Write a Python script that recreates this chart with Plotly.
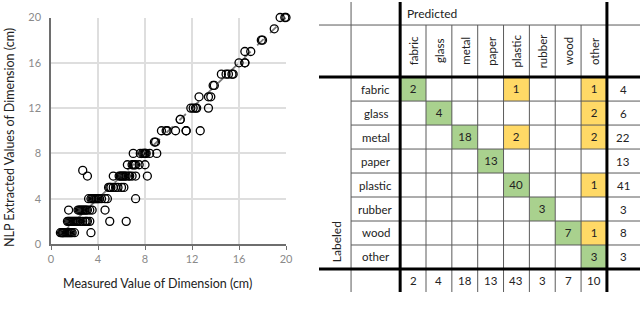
import plotly.graph_objects as go

# ---- scatter data: measured vs NLP extracted (cm) ----
measured = [
    0.8, 0.9, 1.0, 1.0, 1.1, 1.2, 1.3, 1.4, 1.5, 1.6, 1.7, 1.8, 2.0, 3.4,
    1.4, 1.5, 1.6, 1.7, 1.8, 1.9, 2.0, 2.1, 2.2, 2.3, 2.5, 2.7, 2.9, 3.0, 3.1, 3.3, 5.0, 6.4,
    1.5, 2.3, 2.4, 2.5, 2.6, 2.7, 2.8, 2.9, 3.0, 3.1, 3.3, 3.5, 4.6,
    3.2, 3.4, 3.5, 3.6, 3.7, 3.8, 3.9, 4.0, 4.1, 4.3, 4.6, 4.8, 7.2,
    4.9, 5.0, 5.1, 5.3, 5.5, 5.7, 6.0, 6.2,
    3.1, 5.3, 5.8, 5.9, 6.0, 6.1, 6.2, 6.3, 6.4, 6.6, 6.7, 6.9, 7.2, 8.2,
    2.7,
    6.5, 6.9, 7.0, 7.1, 7.2, 7.5, 8.0,
    7.0, 7.6, 7.8, 7.9, 8.0, 8.0, 8.1, 8.4, 9.0,
    8.8, 8.9,
    9.4, 9.8, 9.9, 10.6, 11.5, 11.5, 12.7,
    11.0, 11.0,
    11.9, 12.1, 12.3, 12.4, 13.4,
    12.6, 13.4, 13.6,
    13.8, 13.9,
    14.5, 14.9, 15.1, 15.4, 15.5,
    16.0, 16.5, 16.5,
    16.5, 17.0,
    17.9, 18.0,
    19.0,
    19.5, 19.9, 20.0,
]
extracted = (
    [1] * 14 + [2] * 18 + [3] * 13 + [4] * 13 + [5] * 8 + [6] * 14 + [6.5]
    + [7] * 7 + [8] * 9 + [9] * 2 + [10] * 7 + [11] * 2 + [12] * 5 + [13] * 3
    + [14] * 2 + [15] * 5 + [16] * 3 + [17] * 2 + [18] * 2 + [19] + [20] * 3
)
trend_x = [1, 20]
trend_y = [1, 20]
axis_ticks = [0, 4, 8, 12, 16, 20]

# ---- confusion matrix (rows = labeled, cols = predicted) ----
classes = ["fabric", "glass", "metal", "paper", "plastic", "rubber", "wood", "other"]
confusion = [
    [2, 0, 0, 0, 1, 0, 0, 1],
    [0, 4, 0, 0, 0, 0, 0, 2],
    [0, 0, 18, 0, 2, 0, 0, 2],
    [0, 0, 0, 13, 0, 0, 0, 0],
    [0, 0, 0, 0, 40, 0, 0, 1],
    [0, 0, 0, 0, 0, 3, 0, 0],
    [0, 0, 0, 0, 0, 0, 7, 1],
    [0, 0, 0, 0, 0, 0, 0, 3],
]
row_totals = [sum(r) for r in confusion]
col_totals = [sum(r[j] for r in confusion) for j in range(len(classes))]

W, H = 640, 326
FONT = "Lato"
GREEN = "#a9d18e"
YELLOW = "#ffd966"


def px_x(p):
    return p / W


def px_y(p):
    return 1 - p / H


fig = go.Figure()

fig.add_trace(go.Scatter(
    x=trend_x, y=trend_y, mode="lines",
    line=dict(color="#7a7a7a", width=1.8, dash="dash"),
    hoverinfo="skip", xaxis="x", yaxis="y"))
fig.add_trace(go.Scatter(
    x=measured, y=extracted, mode="markers", cliponaxis=False,
    marker=dict(symbol="circle-open", size=8, color="black",
                line=dict(width=1.3, color="black")),
    xaxis="x", yaxis="y"))

# table cells: 1 = correct (green), 2 = misclassified (yellow)
n = len(classes)
z = [[0 if confusion[i][j] == 0 else (1 if i == j else 2) for j in range(n)] for i in range(n)]
txt = [[str(v) if v else "" for v in row] for row in confusion]
centers = [k + 0.5 for k in range(n)]
fig.add_trace(go.Heatmap(
    x=centers, y=centers, z=z, text=txt, texttemplate="%{text}",
    textfont=dict(family=FONT, size=11.5, color="#222"),
    colorscale=[[0, "white"], [0.5, GREEN], [1, YELLOW]],
    zmin=0, zmax=2, showscale=False, hoverinfo="skip",
    xaxis="x2", yaxis="y2"))

# table geometry in cell units
X_LEFT, X_LABEL, X_RIGHT = -3.14, -1.9, 9.28
Y_TOP, Y_HEAD, Y_BOT = -3.13, -2.17, 8.96
thin = dict(color="#5a5a5a", width=1)
thick = dict(color="black", width=3)
shapes = []


def seg(x0, y0, x1, y1, line):
    shapes.append(dict(type="line", xref="x2", yref="y2", x0=x0, y0=y0,
                       x1=x1, y1=y1, line=line, layer="above"))


seg(X_LABEL, Y_TOP, X_LABEL, Y_BOT, thin)
for j in range(1, n):
    seg(j, Y_HEAD, j, Y_BOT, thin)
seg(X_LEFT, Y_HEAD, X_RIGHT, Y_HEAD, thin)
for i in range(1, n):
    seg(X_LABEL, i, X_RIGHT, i, thin)
seg(0, Y_TOP, 0, Y_BOT, thick)
seg(n, Y_TOP, n, Y_BOT, thick)
seg(X_LEFT, 0, X_RIGHT, 0, thick)
seg(X_LEFT, n, X_RIGHT, n, thick)

ann = []
tf = dict(family=FONT, size=11.5, color="#222")
for i, c in enumerate(classes):
    ann.append(dict(x=(X_LABEL + 0) / 2, y=i + 0.5, text=c, showarrow=False,
                    xref="x2", yref="y2", font=tf))
    ann.append(dict(x=(n + X_RIGHT) / 2, y=i + 0.5, text=str(row_totals[i]),
                    showarrow=False, xref="x2", yref="y2", font=tf))
    ann.append(dict(x=i + 0.5, y=(Y_HEAD + 0) / 2, text=c, textangle=-90,
                    showarrow=False, xref="x2", yref="y2", font=tf))
    ann.append(dict(x=i + 0.5, y=(n + Y_BOT) / 2, text=str(col_totals[i]),
                    showarrow=False, xref="x2", yref="y2", font=tf))
ann.append(dict(x=0.18, y=(Y_TOP + Y_HEAD) / 2, text="Predicted", xanchor="left",
                showarrow=False, xref="x2", yref="y2",
                font=dict(family=FONT, size=12, color="#222")))
ann.append(dict(x=(X_LEFT + X_LABEL) / 2 + 0.07, y=6.85, text="Labeled", textangle=-90,
                showarrow=False, xref="x2", yref="y2",
                font=dict(family=FONT, size=12, color="#222")))

# scatter axis titles
ann.append(dict(x=px_x(157), y=px_y(283), text="Measured Value of Dimension (cm)",
                xanchor="center", yanchor="middle",
                showarrow=False, xref="paper", yref="paper",
                font=dict(family=FONT, size=12.5, color="#222")))
ann.append(dict(x=px_x(9), y=px_y(138), text="NLP Extracted Values of Dimension (cm)",
                xanchor="center", yanchor="middle",
                textangle=-90, showarrow=False, xref="paper", yref="paper",
                font=dict(family=FONT, size=12.5, color="#222")))

tick_font = dict(family=FONT, size=11, color="#8a8a8a")
fig.update_layout(
    width=W, height=H,
    margin=dict(l=0, r=0, t=0, b=0, autoexpand=False),
    paper_bgcolor="white", plot_bgcolor="white",
    showlegend=False,
    xaxis=dict(domain=[px_x(51), px_x(286)], range=[0, 20], tickvals=axis_ticks,
               showgrid=True, gridcolor="#dedede", gridwidth=1.5,
               showline=True, linecolor="#6e6e6e", linewidth=1.5,
               ticks="outside", ticklen=4, tickcolor="#6e6e6e",
               tickfont=tick_font, zeroline=False, anchor="y", automargin=False),
    yaxis=dict(domain=[px_y(244), px_y(17.5)], range=[0, 20], tickvals=axis_ticks,
               showgrid=True, gridcolor="#dedede", gridwidth=1.5,
               showline=True, linecolor="#6e6e6e", linewidth=1.5,
               ticks="", ticklabelstandoff=6,
               tickfont=tick_font, zeroline=False, anchor="x", automargin=False),
    xaxis2=dict(domain=[px_x(319), 1], range=[X_LEFT, X_RIGHT], visible=False,
                anchor="y2", automargin=False),
    yaxis2=dict(domain=[px_y(292), px_y(2)], range=[Y_BOT, Y_TOP], visible=False,
                anchor="x2", automargin=False),
    shapes=shapes,
    annotations=ann,
)

fig.write_html("out.html", config={"displayModeBar": False},
               post_script="document.body.style.margin='0';")
